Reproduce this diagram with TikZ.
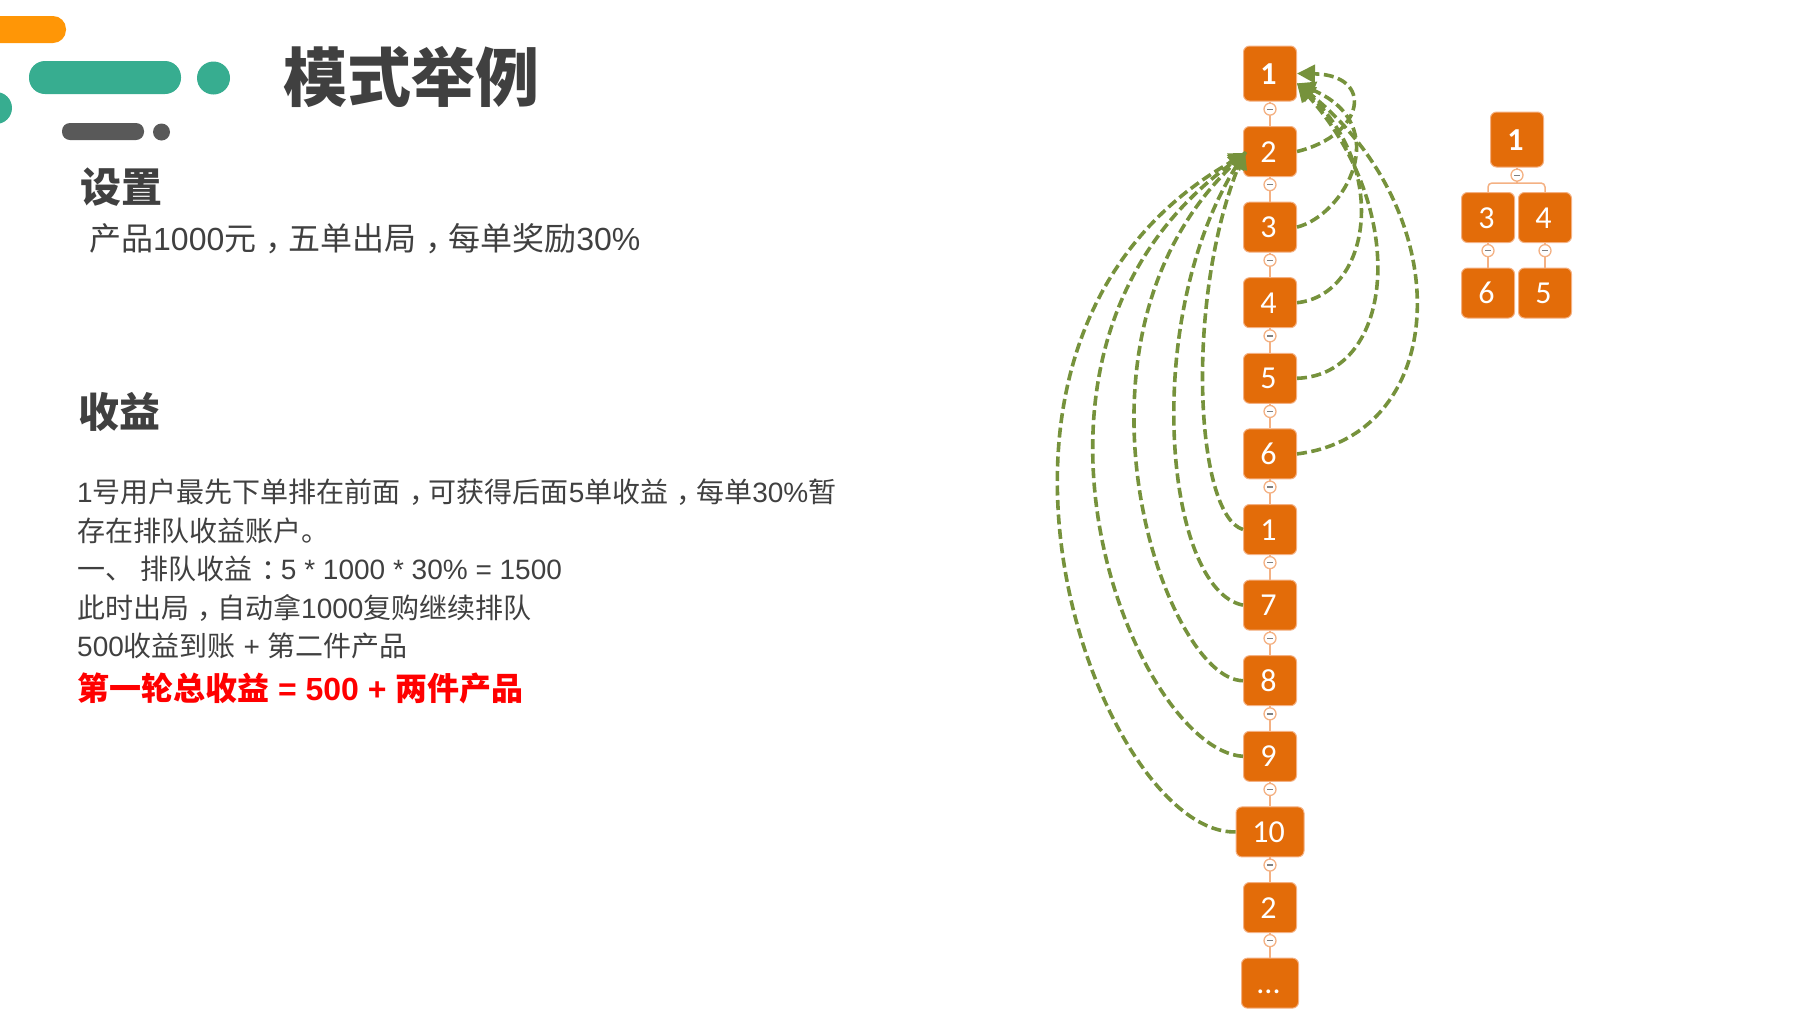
\documentclass[tikz,border=0pt]{standalone}
\usepackage{fontspec}
\usepackage{xcolor}
\usetikzlibrary{arrows.meta,positioning}
\setmainfont{Liberation Sans}
\newfontfamily\cjk{Noto Sans CJK SC}
\newfontfamily\numfont{Carlito}
\newcommand{\zh}[1]{{\cjk #1}}
\newcommand{\fw}[1]{\kern.3em#1\kern-.3em}
\definecolor{boxorange}{HTML}{E36C09}
\definecolor{rimorange}{HTML}{F4B183}
\definecolor{linkgreen}{HTML}{76923C}
\definecolor{barorange}{HTML}{FF9606}
\definecolor{barteal}{HTML}{37AD90}
\definecolor{bargray}{HTML}{595959}
\definecolor{inkgray}{HTML}{404040}
\begin{document}
\begin{tikzpicture}[x=1pt, y=-1pt, node distance={75.6pt},
    main/.style = {draw=rimorange, line width=1pt, fill=boxorange, rounded corners=6pt, minimum width=53pt, minimum height=50pt, inner sep=0pt, text=white, text height=21pt, text depth=0pt, execute at begin node={\hspace*{-3pt}}, font=\numfont\fontsize{32}{36}\selectfont},
    top/.style = {main, minimum height=55pt, font=\numfont\bfseries\fontsize{32}{36}\selectfont},
    stem/.style = {draw=rimorange, line width=1.5pt},
    fold/.style = {circle, draw=rimorange, line width=1.3pt, fill=white, minimum size=12pt, inner sep=0pt, path picture={\draw[gray, line width=1.3pt] ([xshift=-3pt]path picture bounding box.center) -- ([xshift=3pt]path picture bounding box.center);}},
    link/.style = {draw=linkgreen, line width=3.6pt, dash pattern=on 10pt off 4.5pt, -{Triangle[length=18pt, width=18pt]}},
    heading/.style = {anchor=west, inner sep=0pt, text=inkgray, font=\bfseries\fontsize{41}{46}\selectfont},
    para/.style = {anchor=west, inner sep=0pt, text=inkgray, font=\fontsize{32}{38}\selectfont}]
    \useasboundingbox (0,0) rectangle (1817,1013);

    \fill[barorange, rounded corners=13pt] (-20,16) rectangle (66,43);
    \fill[barteal, rounded corners=16pt] (29,61) rectangle (181,94);
    \fill[barteal] (213.5,78) ellipse (16.5 and 16.5);
    \fill[barteal] (-4,108) circle (16);
    \fill[bargray, rounded corners=8pt] (62,123) rectangle (144,140);
    \fill[bargray] (161.5,132) circle (8.5);

    \node[heading, font=\bfseries\fontsize{64}{70}\selectfont] (title) at (283,77) {\zh{模式举例}};
    \node[heading] (setup) at (80.5,187) {\zh{设置}};
    \node[para] (price) at (89,239) {\zh{产品}1000\zh{元\fw{，}五单出局\fw{，}每单奖励}30\%};
    \node[heading] (gain) at (78.5,412) {\zh{收益}};
    \node[para, anchor=north west, align=left, font=\fontsize{28}{38.4}\selectfont] (detail) at (77,479) {1\zh{号用户最先下单排在前面\fw{，}可获得后面}5\zh{单收益\fw{，}每单}30\%\zh{暂}\\
        \zh{存在排队收益账户。}\\
        \zh{一、} \zh{排队收益\fw{：}}5 * 1000 * 30\% = 1500\\
        \zh{此时出局\fw{，}自动拿}1000\zh{复购继续排队}\\
        500\zh{收益到账} + \zh{第二件产品}};
    \node[para, text=red, font=\bfseries\fontsize{32}{38}\selectfont] (total) at (77,688) {\zh{第一轮总收益} = 500 + \zh{两件产品}};

    \node[top] (a1) at (1270,73.5) {1};
    \node[main] (a2) at (1270,151.5) {2};
    \node[main] (a3) [below of=a2] {3};
    \node[main] (a4) [below of=a3] {4};
    \node[main] (a5) [below of=a4] {5};
    \node[main] (a6) [below of=a5] {6};
    \node[main] (a7) [below of=a6] {1};
    \node[main] (a8) [below of=a7] {7};
    \node[main] (a9) [below of=a8] {8};
    \node[main] (a10) [below of=a9] {9};
    \node[main, minimum width=68pt] (a11) [below of=a10] {10};
    \node[main] (a12) [below of=a11] {2};
    \node[main, minimum width=57pt] (a13) [below of=a12] {...};

    \draw[stem] (a1) -- (a2);
    \draw[stem] (a2) -- (a3);
    \draw[stem] (a3) -- (a4);
    \draw[stem] (a4) -- (a5);
    \draw[stem] (a5) -- (a6);
    \draw[stem] (a6) -- (a7);
    \draw[stem] (a7) -- (a8);
    \draw[stem] (a8) -- (a9);
    \draw[stem] (a9) -- (a10);
    \draw[stem] (a10) -- (a11);
    \draw[stem] (a11) -- (a12);
    \draw[stem] (a12) -- (a13);

    \node[fold, below=1pt of a1] (f1) {};
    \node[fold, below=1pt of a2] (f2) {};
    \node[fold, below=1pt of a3] (f3) {};
    \node[fold, below=1pt of a4] (f4) {};
    \node[fold, below=1pt of a5] (f5) {};
    \node[fold, below=1pt of a6] (f6) {};
    \node[fold, below=1pt of a7] (f7) {};
    \node[fold, below=1pt of a8] (f8) {};
    \node[fold, below=1pt of a9] (f9) {};
    \node[fold, below=1pt of a10] (f10) {};
    \node[fold, below=1pt of a11] (f11) {};
    \node[fold, below=1pt of a12] (f12) {};

    \node[top] (t1) at (1517,139.5) {1};
    \node[main] (t3) at (1488,217.5) {3};
    \node[main] (t4) at (1545,217.5) {4};
    \node[main] (t6) at (1488,293) {6};
    \node[main] (t5) at (1545,293) {5};
    \coordinate (bar) at (1517,183);

    \draw[stem] (t1) -- (bar);
    \draw[stem, rounded corners=4pt] (t3.north) |- (bar) -| (t4.north);
    \draw[stem] (t3) -- (t6);
    \draw[stem] (t4) -- (t5);
    \node[fold, below=1pt of t1] (g1) {};
    \node[fold, below=1pt of t3] (g3) {};
    \node[fold, below=1pt of t4] (g4) {};

    \draw[link] (a2.east) .. controls (1365,135) and (1375,75) .. (a1.east);
    \draw[link] (a3.east) .. controls (1345,215) and (1395,125) .. (a1.-20);
    \draw[link] (a4.east) .. controls (1370,295) and (1390,170) .. (a1.-20);
    \draw[link] (a5.east) .. controls (1395,375) and (1410,210) .. (a1.-20);
    \draw[link] (a6.east) .. controls (1450,435) and (1460,215) .. (a1.-20);

    \draw[link, shorten >=-5pt] (a7.west) .. controls (1195,515) and (1185,300) .. (a2.188);
    \draw[link, shorten >=-5pt] (a8.west) .. controls (1165,590) and (1140,320) .. (a2.188);
    \draw[link, shorten >=-5pt] (a9.west) .. controls (1165,680) and (1047,340) .. (a2.188);
    \draw[link, shorten >=-5pt] (a10.west) .. controls (1135,750) and (972,350) .. (a2.188);
    \draw[link, shorten >=-5pt] (a11.west) .. controls (1100,835) and (915,340) .. (a2.188);
\end{tikzpicture}
\end{document}
